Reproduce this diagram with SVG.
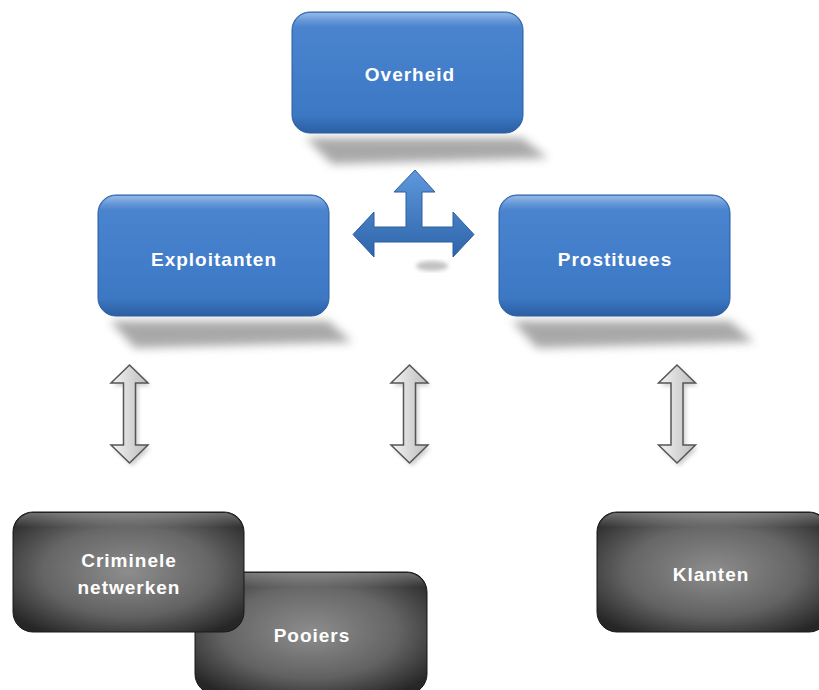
<svg xmlns="http://www.w3.org/2000/svg" width="819" height="690" viewBox="0 0 819 690">
<defs>
<linearGradient id="blue" x1="0" y1="0" x2="0" y2="1">
<stop offset="0" stop-color="#5a94da"/>
<stop offset="0.08" stop-color="#417ecd"/>
<stop offset="0.85" stop-color="#3b77c4"/>
<stop offset="1" stop-color="#2b5fa3"/>
</linearGradient>
<radialGradient id="dark" cx="0.5" cy="0.5" r="0.62">
<stop offset="0" stop-color="#8a8a8a"/>
<stop offset="0.6" stop-color="#606060"/>
<stop offset="1" stop-color="#262626"/>
</radialGradient>
<linearGradient id="gloss" x1="0" y1="0" x2="0" y2="1">
<stop offset="0" stop-color="#ffffff" stop-opacity="0.35"/>
<stop offset="0.12" stop-color="#ffffff" stop-opacity="0.05"/>
<stop offset="1" stop-color="#ffffff" stop-opacity="0"/>
</linearGradient>
<linearGradient id="garrow" x1="0" y1="0" x2="1" y2="0">
<stop offset="0" stop-color="#f4f4f4"/>
<stop offset="1" stop-color="#bcbcbc"/>
</linearGradient>
<linearGradient id="barrow" x1="0" y1="0" x2="0" y2="1">
<stop offset="0" stop-color="#5f98dc"/>
<stop offset="1" stop-color="#2d64aa"/>
</linearGradient>
<filter id="blur" x="-20%" y="-50%" width="140%" height="200%">
<feGaussianBlur stdDeviation="5"/>
</filter>
<filter id="soft" x="-50%" y="-20%" width="200%" height="140%">
<feGaussianBlur stdDeviation="2"/>
</filter>
<path id="darrow" d="M0,365 L18.5,383 L6,383 L6,445 L18.5,445 L0,463 L-18.5,445 L-6,445 L-6,383 L-18.5,383 Z"/>
</defs>
<style>
.blue{fill:url(#blue);stroke:#2d5e9f;stroke-width:1}
.dark{fill:url(#dark);stroke:#1a1a1a;stroke-width:1}
.gloss{fill:url(#gloss);stroke:none}
.shadow{fill:#8c8c8c;opacity:0.75;filter:url(#blur)}
.lbl{font-family:"Liberation Sans",Arial,sans-serif;font-weight:bold;font-size:19px;letter-spacing:1px;fill:#ffffff;text-anchor:middle}
.ga{fill:url(#garrow);stroke:#555555;stroke-width:1.5;stroke-linejoin:miter}
.gs{fill:#999999;opacity:0.5;filter:url(#soft)}
</style>
<rect width="819" height="690" fill="#ffffff"/>

<g id="overheid">
<path class="shadow" d="M306,138 L522,138 L548,158 L332,164 Z"/>
<rect class="blue" x="292" y="12" width="231" height="121" rx="18"/>
<rect class="gloss" x="293" y="13" width="229" height="119" rx="17"/>
<text class="lbl" x="410" y="81">Overheid</text>
</g>

<g id="exploitanten">
<path class="shadow" d="M110,321 L328,321 L352,342 L135,348 Z"/>
<rect class="blue" x="98" y="195" width="231" height="121" rx="18"/>
<rect class="gloss" x="99" y="196" width="229" height="119" rx="17"/>
<text class="lbl" x="214" y="266">Exploitanten</text>
</g>

<g id="prostituees">
<path class="shadow" d="M512,321 L730,321 L754,342 L537,348 Z"/>
<rect class="blue" x="499" y="195" width="231" height="121" rx="18"/>
<rect class="gloss" x="500" y="196" width="229" height="119" rx="17"/>
<text class="lbl" x="615" y="266">Prostituees</text>
</g>

<g id="pooiers">
<rect class="dark" x="195" y="572" width="232" height="122" rx="20"/>
<rect class="gloss" x="196" y="573" width="230" height="120" rx="19"/>
<text class="lbl" x="312" y="642">Pooiers</text>
</g>

<g id="criminele-netwerken">
<rect class="dark" x="13" y="512" width="231" height="120" rx="20"/>
<rect class="gloss" x="14" y="513" width="229" height="118" rx="19"/>
<text class="lbl" x="129" y="567">Criminele</text>
<text class="lbl" x="129" y="594">netwerken</text>
</g>

<g id="klanten">
<rect class="dark" x="597" y="512" width="232" height="120" rx="20"/>
<rect class="gloss" x="598" y="513" width="230" height="118" rx="19"/>
<text class="lbl" x="711" y="581">Klanten</text>
</g>

<g id="connectors">
<ellipse cx="432" cy="266" rx="16" ry="5" fill="#9a9a9a" opacity="0.6" filter="url(#soft)"/>
<path d="M415,170 L435,192 L422,192 L422,227 L453,227 L453,212 L474,234.5 L453,257 L453,242 L374,242 L374,257 L353,234.5 L374,212 L374,227 L406,227 L406,192 L394,192 Z" fill="url(#barrow)" stroke="#2d5e9f" stroke-width="1"/>
<use href="#darrow" class="gs" transform="translate(132,3)"/>
<use href="#darrow" class="ga" transform="translate(129.5,0)"/>
<use href="#darrow" class="gs" transform="translate(412,3)"/>
<use href="#darrow" class="ga" transform="translate(409.5,0)"/>
<use href="#darrow" class="gs" transform="translate(679.5,3)"/>
<use href="#darrow" class="ga" transform="translate(677,0)"/>
</g>
</svg>
